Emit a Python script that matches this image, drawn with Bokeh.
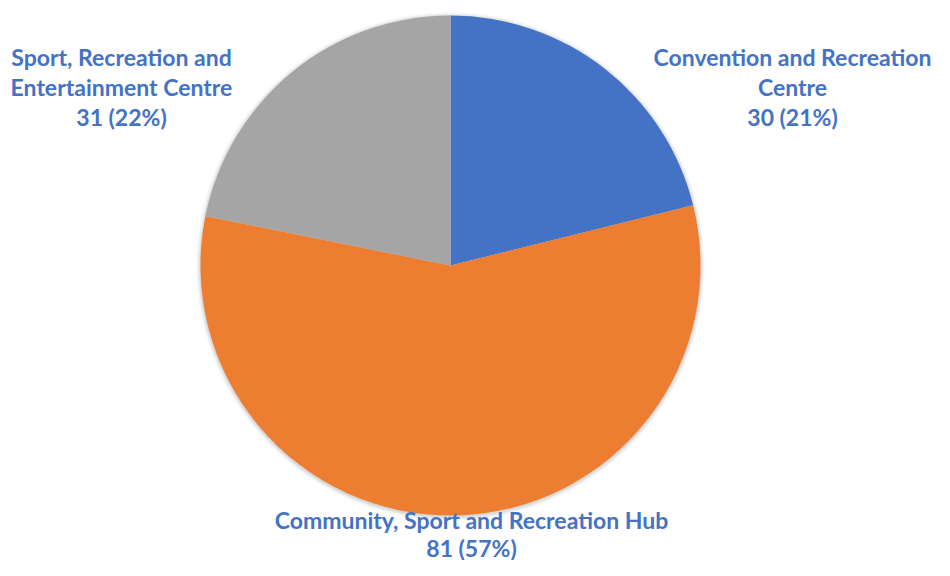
import math
from bokeh.plotting import figure
from bokeh.models import ColumnDataSource, Range1d
from bokeh.core.properties import value
from bokeh.embed import file_html
from bokeh.resources import INLINE

# ---- data ----
categories = ["Convention and Recreation Centre",
              "Community, Sport and Recreation Hub",
              "Sport, Recreation and Entertainment Centre"]
counts = [30, 81, 31]
colors = ["#4472C4", "#ED7D31", "#A5A5A5"]
label_lines = [["Convention and Recreation", "Centre"],
               ["Community, Sport and Recreation Hub"],
               ["Sport, Recreation and", "Entertainment Centre"]]

W, H = 934, 560
total = sum(counts)
starts, ends, pct = [], [], []
cum = 0
for c in counts:
    starts.append(math.pi / 2 - 2 * math.pi * cum / total)
    cum += c
    ends.append(math.pi / 2 - 2 * math.pi * cum / total)
    pct.append(round(100 * c / total))

p = figure(width=W, height=H, output_backend="svg", toolbar_location=None,
           x_range=Range1d(0, W), y_range=Range1d(0, H), min_border=0)
p.axis.visible = False
p.grid.visible = False
p.outline_line_color = None
p.background_fill_color = "white"

cx, cy, r = 450, H - 265, 250

# soft shadow
for i, a in enumerate([0.05, 0.04, 0.03, 0.02, 0.01]):
    p.circle(x=[cx], y=[cy - 1], radius=r + 1 + i, fill_color="black",
             fill_alpha=a, line_color=None)

src = ColumnDataSource(dict(start=starts, end=ends, color=colors))
p.wedge(x=cx, y=cy, radius=r, start_angle="start", end_angle="end",
        direction="clock", fill_color="color", line_color=None, source=src)

# label layout: center x, screen y of first line, line spacing
anchors = [(792, 56, 30), (471, 519, 28), (121, 56, 30)]
tx, ty, tt = [], [], []
for lines, cnt, pc, (ax, ay, sp) in zip(label_lines, counts, pct, anchors):
    all_lines = lines + [f"{cnt} ({pc}%)"]
    for j, ln in enumerate(all_lines):
        tx.append(ax)
        ty.append(H - (ay + j * sp))
        tt.append(ln)

p.text(x=tx, y=ty, text=tt, text_align="center", text_baseline="middle",
       text_font=value("Lato"), text_font_style="bold",
       text_font_size="23px", text_color="#4472C4")

open("out.html", "w").write(file_html(p, INLINE))
